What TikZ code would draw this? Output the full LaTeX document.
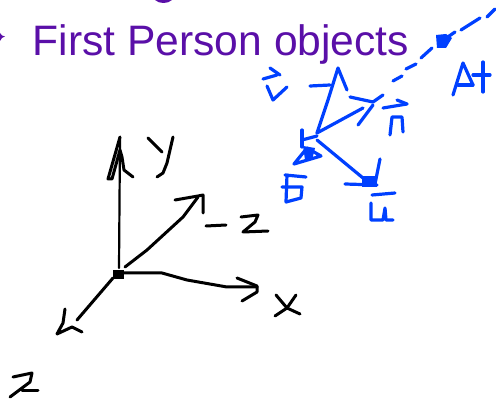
\documentclass[tikz,border=0pt]{standalone}
\usepackage{fontspec}
\setmainfont{Liberation Sans}
\definecolor{titlepurple}{HTML}{5A0FA8}
\definecolor{inkblue}{HTML}{0040FF}
\tikzset{
  inkb/.style={draw=black,line width=3pt,line cap=round,line join=round},
  inkbthin/.style={draw=black,line width=2.2pt,line cap=round,line join=round},
  inkc/.style={draw=inkblue,line width=3.2pt,line cap=round,line join=round},
  title/.style={text=titlepurple,font=\fontsize{42.6pt}{44pt}\selectfont,anchor=base west,inner sep=0pt}
}
\begin{document}
\begin{tikzpicture}[x=1pt,y=-1pt]
\useasboundingbox (0,0) rectangle (496,401);
\node[title] (heading) at (32.5,56) {First Person objects};
\fill[titlepurple] (155,0) .. controls (159,4) and (168,4) .. (172,0) -- cycle;
\fill[titlepurple] (0,33) -- (2,35.5) -- (5,36.5) -- (2,38) -- (0,41) -- cycle;
% black axes
\draw[inkbthin] (120,137) -- (119,268);
\draw[inkb] (120,137) -- (108,179) -- (112,179) -- (120,150) -- (122,157) -- (124,170) -- (133,177);
\draw[inkb] (148,138) -- (162,152);
\draw[inkb] (173,137) -- (167,163) -- (163,173) -- (157,177);
\draw[inkb] (125,267) -- (147,250) -- (183,217) -- (198,197);
\draw[inkb] (175,200) -- (198,196) -- (203,195) -- (203,213);
\draw[inkb] (206,226) -- (226,225);
\draw[inkb] (241,217) -- (258,215) -- (255,222) -- (243,232) -- (268,231);
\fill (113,270) rectangle (124,279);
\draw[inkb] (124,273) -- (162,273) -- (187,280) -- (227,287) -- (257,287);
\draw[inkb] (237,278) -- (257,286) -- (257,292) -- (242,301);
\draw[inkb] (276,295) -- (287,308) -- (300,314);
\draw[inkb] (296,295) -- (287,308) -- (275,316);
\draw[inkb] (113,278) -- (77,320);
\draw[inkb] (65,309) -- (63,323) -- (57,334) -- (72,327) -- (82,332);
\draw[inkb] (13,377) -- (32,373) -- (30,382) -- (10,397);
\draw[inkb] (22,390) -- (38,390);
% blue: look-at line
\draw[inkc] (393,81) -- (402,76);
\draw[inkc] (406,69) -- (416,64);
\draw[inkc] (421,58) -- (432,48);
\draw[inkc] (442,41) -- (455,32);
\fill[inkblue] (436,35) -- (446,34) -- (452,38) -- (446,48) -- (437,48) -- cycle;
\draw[inkc] (461,30) -- (480,18);
\draw[inkc] (487,17) -- (495,9);
\draw[inkc] (453,95) -- (463,63) -- (473,85);
\draw[inkc] (458,85) -- (473,85);
\draw[inkc] (483,62) -- (483,92);
\draw[inkc] (473,75) -- (490,75);
% blue: v
\draw[inkc] (263,79) -- (277,75);
\draw[inkc] (270,68) -- (280,75);
\draw[inkc] (267,86) -- (273,100) -- (287,87);
\draw[inkc] (317,133) -- (328,100) -- (338,68) -- (347,90);
\draw[inkc] (310,86) -- (330,85);
% blue: n
\draw[inkc] (317,133) -- (363,108);
\draw[inkc] (350,97) -- (373,102) -- (383,95);
\draw[inkc] (373,105) -- (358,125);
\draw[inkc] (383,108) -- (407,104);
\draw[inkc] (397,100) -- (407,104);
\draw[inkc] (390,135) -- (392,117) -- (402,117) -- (403,132);
% blue: u
\draw[inkc] (317,140) -- (363,178);
\draw[inkc] (345,184) -- (377,185);
\draw[inkc] (380,159) -- (375,184);
\fill[inkblue] (362,176) rectangle (377,187);
\draw[inkc] (372,195) -- (395,193);
\draw[inkc] (371,203) -- (371,220) -- (383,220) -- (385,208) -- (386,220) -- (393,220);
% blue: eye
\draw[inkc] (302,130) -- (302,147);
\draw[inkc] (302,140) -- (317,136);
\draw[inkc] (307,148) -- (294,164) -- (321,156) -- cycle;
\fill[inkblue] (303,146) -- (315,148) -- (312,160) -- (305,160) -- cycle;
\draw[inkc] (285,175) -- (306,177);
\draw[inkc] (287,175) -- (286,202) -- (301,198) -- (302,187) -- (282,187);
\end{tikzpicture}
\end{document}
